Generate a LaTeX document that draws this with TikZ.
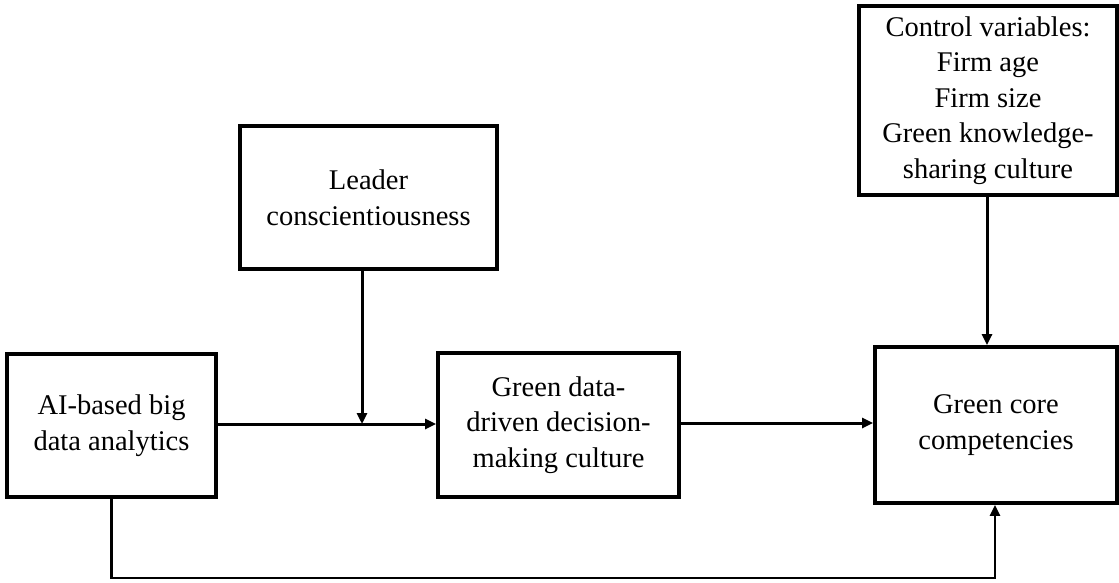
\documentclass[tikz,border=0pt]{standalone}
\usepackage{fontspec}
\setmainfont{Liberation Serif}
\usetikzlibrary{arrows.meta}
\begin{document}
\begin{tikzpicture}[x=1pt,y=-1pt,
  box/.style={draw=black,line width=3.8pt,rectangle,align=center,inner sep=0pt,
    font=\fontsize{28.5}{35.5}\selectfont},
  conn/.style={line width=3pt,-{Triangle[length=11pt,width=10pt]}},
  thinconn/.style={line width=2.4pt,-{Triangle[length=11pt,width=10pt]}}]
\useasboundingbox (0,0) rectangle (1119,582);
\node[box,minimum width=258pt,minimum height=189pt] (ctrl) at (988,100.5)
  {Control variables:\\Firm age\\Firm size\\Green knowledge-\\sharing culture};
\node[box,minimum width=257pt,minimum height=143pt] (leader) at (368.5,197.5)
  {Leader\\conscientiousness};
\node[box,minimum width=209pt,minimum height=143pt] (ai) at (111.5,425.5)
  {AI-based big\\data analytics};
\node[box,minimum width=241pt,minimum height=144pt] (gd) at (558.5,425)
  {Green data-\\driven decision-\\making culture};
\node[box,minimum width=242pt,minimum height=156pt] (gc) at (996,425)
  {Green core\\competencies};
\coordinate (j) at (362,424);
\coordinate (c) at (987,0);
\coordinate (b) at (995,578);
\draw[conn] (ai.east |- j) -- (gd.west |- j);
\draw[conn] (j |- leader.south) -- (j);
\draw[conn] (gd.east |- 0,423) -- (gc.west |- 0,423);
\draw[conn] (c |- ctrl.south) -- (c |- gc.north);
\draw[thinconn] (ai.south) |- (b) -- (b |- gc.south);
\end{tikzpicture}
\end{document}
